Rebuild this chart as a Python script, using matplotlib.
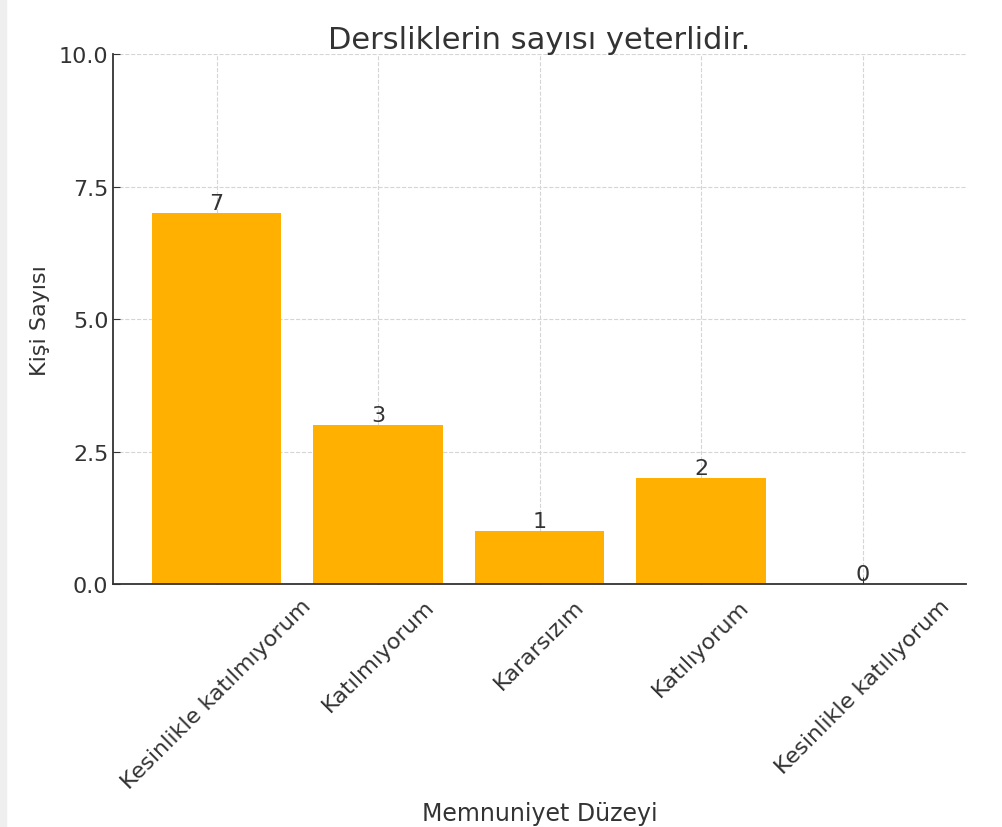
import matplotlib
matplotlib.use("Agg")
import matplotlib.pyplot as plt
from matplotlib.patches import Rectangle

categories = ["Kesinlikle katılmıyorum", "Katılmıyorum", "Kararsızım",
              "Katılıyorum", "Kesinlikle katılıyorum"]
counts = [7, 3, 1, 2, 0]
y_ticks = [0.0, 2.5, 5.0, 7.5, 10.0]

plt.rcParams['font.family'] = ['DejaVu Sans']
text_col = '#333333'

fig = plt.figure(figsize=(10.02, 8.28), dpi=100)
# thin grey strip on the left edge
fig.patches.append(Rectangle((0, 0), 0.006, 1, transform=fig.transFigure,
                             color='#efefef', zorder=0))
ax = fig.add_axes([0.113, 0.293, 0.851, 0.640])

x = list(range(len(categories)))
bars = ax.bar(x, counts, width=0.8, color='#FFB000', zorder=2)
for xi, v in zip(x, counts):
    ax.text(xi, v, str(v), ha='center', va='bottom', fontsize=16, color=text_col, zorder=3)

ax.set_ylim(0, 10)
ax.set_yticks(y_ticks)
ax.set_yticklabels(["%.1f" % t for t in y_ticks])
ax.set_xticks(x)
ax.set_xticklabels(categories, rotation=45)
ax.tick_params(direction='in', labelsize=16, colors=text_col, length=5)
ax.tick_params(axis='x', pad=8)
for lab in ax.get_xticklabels():
    lab.set_color(text_col)

ax.grid(True, linestyle='--', color='#d5d5d5', linewidth=0.8, zorder=0)
ax.set_axisbelow(True)
for s in ['top', 'right']:
    ax.spines[s].set_visible(False)
for s in ['left', 'bottom']:
    ax.spines[s].set_color(text_col)
    ax.spines[s].set_linewidth(1.3)

ax.set_title("Dersliklerin sayısı yeterlidir.", fontsize=22, color=text_col, pad=4)
ax.set_xlabel("Memnuniyet Düzeyi", fontsize=17, color=text_col, labelpad=6)
ax.set_ylabel("Kişi Sayısı", fontsize=16, color=text_col, labelpad=6)

fig.savefig("out.png", dpi=100)
